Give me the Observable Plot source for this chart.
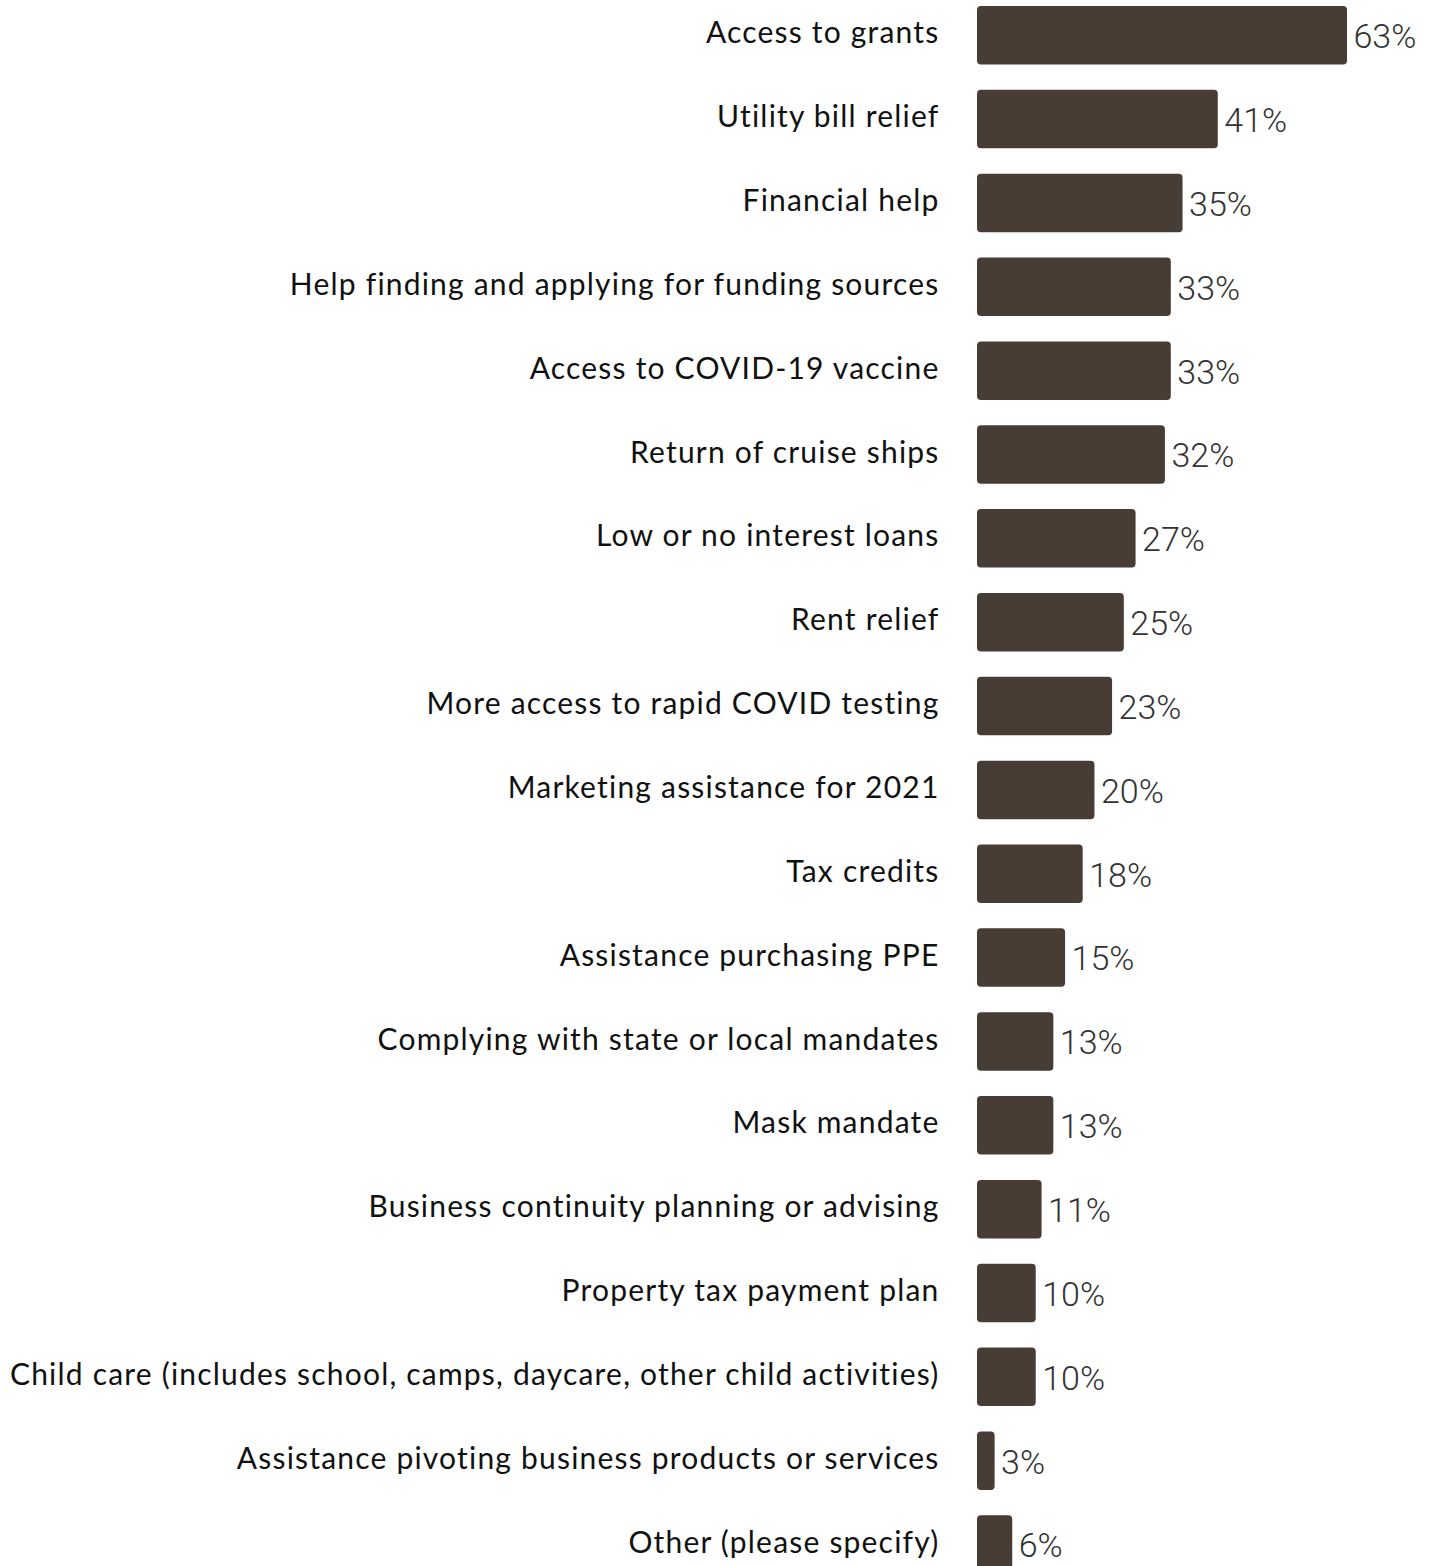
<!DOCTYPE html>
<html>
<head>
<meta charset="utf-8">
<script src="https://cdn.jsdelivr.net/npm/d3@7"></script>
<script src="https://cdn.jsdelivr.net/npm/@observablehq/plot@0.6"></script>
<style>
  html, body { margin: 0; padding: 0; background: #fff; overflow: hidden; }
  g[aria-label="y-axis tick label"] text { letter-spacing: 1.2px; }
</style>
</head>
<body>
<div id="chart"></div>
<script>
const categories = [
  "Access to grants",
  "Utility bill relief",
  "Financial help",
  "Help finding and applying for funding sources",
  "Access to COVID-19 vaccine",
  "Return of cruise ships",
  "Low or no interest loans",
  "Rent relief",
  "More access to rapid COVID testing",
  "Marketing assistance for 2021",
  "Tax credits",
  "Assistance purchasing PPE",
  "Complying with state or local mandates",
  "Mask mandate",
  "Business continuity planning or advising",
  "Property tax payment plan",
  "Child care (includes school, camps, daycare, other child activities)",
  "Assistance pivoting business products or services",
  "Other (please specify)"
];
const values = [63, 41, 35, 33, 33, 32, 27, 25, 23, 20, 18, 15, 13, 13, 11, 10, 10, 3, 6];

const data = categories.map((c, i) => ({category: c, value: values[i]}));

const chart = Plot.plot({
  width: 1435,
  height: 1566,
  marginLeft: 977,
  marginRight: 0,
  marginTop: 0,
  marginBottom: 0,
  style: {fontFamily: "Lato, sans-serif", background: "#fff", color: "#111"},
  x: {domain: [0, 63], range: [977, 1347], axis: null},
  y: {domain: categories, range: [6, 1573.8], paddingInner: 0.302, paddingOuter: 0, align: 0, round: false, label: null},
  marks: [
    Plot.barX(data, {x: "value", y: "category", fill: "#483d34", rx: 4}),
    Plot.text(data, {
      x: "value", y: "category", text: d => d.value + "%",
      textAnchor: "start", dx: 6, dy: 1.5,
      fontSize: 34, fontWeight: 300, fill: "#333",
      fontFamily: "Roboto, sans-serif"
    }),
    Plot.axisY({anchor: "left", tickSize: 0, tickPadding: 38, fontSize: 30, label: null, dy: -2})
  ]
});
document.getElementById("chart").appendChild(chart);
</script>
</body>
</html>
